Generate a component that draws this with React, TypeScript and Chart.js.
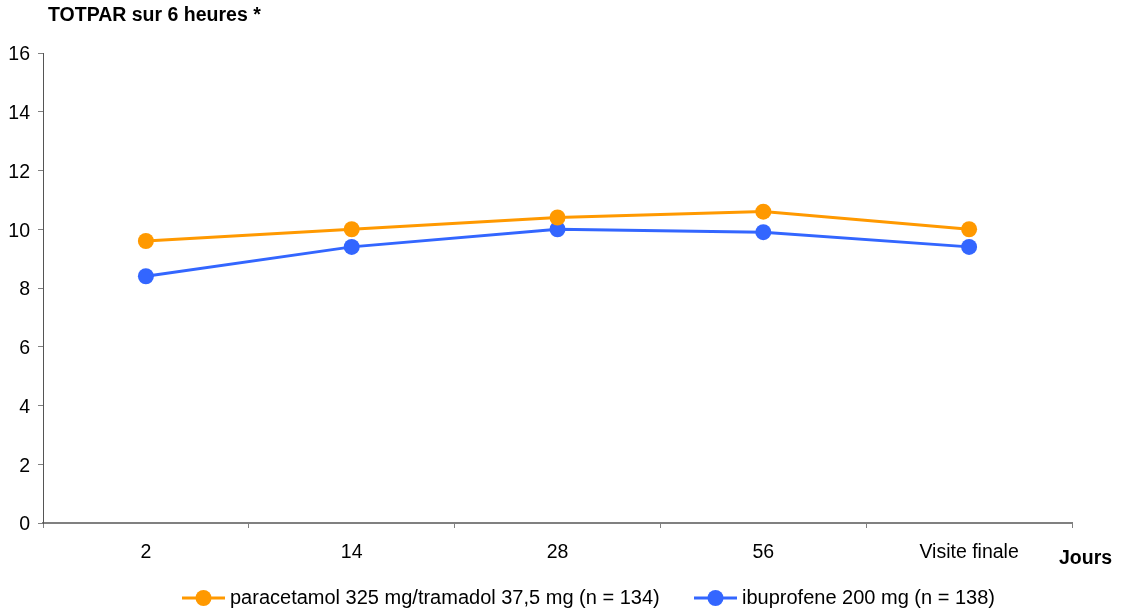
import React, { useEffect, useRef } from "react";
import { Chart, registerables } from "chart.js";

Chart.register(...registerables);

const categories = ["2", "14", "28", "56", "Visite finale"];
const paracetamolTramadol = [9.6, 10.0, 10.4, 10.6, 10.0];
const ibuprofene = [8.4, 9.4, 10.0, 9.9, 9.4];
const seriesLabels = [
  "paracetamol 325 mg/tramadol 37,5 mg (n = 134)",
  "ibuprofene 200 mg (n = 138)",
];
const yTitle = "TOTPAR sur 6 heures *";
const xTitle = "Jours";

const ORANGE = "#FF9900";
const BLUE = "#3366FF";
const AXIS = "#808080";
const FONT = "'Liberation Sans', Arial, sans-serif";
const FONT_SIZE = 19.5;
const LEGEND_SIZE = 20;

// Draws the heading, axis caption and a line+marker legend below the plot
const annotations = {
  id: "annotations",
  afterDraw(chart: any) {
    const { ctx, chartArea } = chart;
    ctx.save();
    ctx.fillStyle = "#000";
    ctx.textBaseline = "middle";
    ctx.font = `bold ${FONT_SIZE}px ${FONT}`;
    ctx.textAlign = "left";
    ctx.fillText(yTitle, 48, 16);
    ctx.fillText(xTitle, chartArea.right - 13, 559);

    const legendX = [182, 694];
    const legendY = 598;
    chart.data.datasets.forEach((ds: any, i: number) => {
      const x0 = legendX[i];
      ctx.strokeStyle = ds.borderColor;
      ctx.lineWidth = 3;
      ctx.beginPath();
      ctx.moveTo(x0, legendY);
      ctx.lineTo(x0 + 43, legendY);
      ctx.stroke();
      ctx.fillStyle = ds.backgroundColor;
      ctx.beginPath();
      ctx.arc(x0 + 21.5, legendY, 8, 0, Math.PI * 2);
      ctx.fill();
      ctx.fillStyle = "#000";
      ctx.font = `${LEGEND_SIZE}px ${FONT}`;
      ctx.fillText(ds.label, x0 + 48, legendY);
    });
    ctx.restore();
  },
};

export default function App() {
  const ref = useRef<HTMLCanvasElement | null>(null);

  useEffect(() => {
    document.body.style.margin = "0";
    const canvas = ref.current;
    if (!canvas) return;
    const chart = new Chart(canvas, {
      type: "line",
      data: {
        labels: categories,
        datasets: [
          {
            label: seriesLabels[0],
            data: paracetamolTramadol,
            borderColor: ORANGE,
            backgroundColor: ORANGE,
            borderWidth: 3,
            pointRadius: 8,
            pointHoverRadius: 8,
            pointBorderWidth: 0,
            tension: 0,
          },
          {
            label: seriesLabels[1],
            data: ibuprofene,
            borderColor: BLUE,
            backgroundColor: BLUE,
            borderWidth: 3,
            pointRadius: 8,
            pointHoverRadius: 8,
            pointBorderWidth: 0,
            tension: 0,
          },
        ],
      },
      options: {
        animation: false,
        responsive: false,
        devicePixelRatio: 1,
        layout: { padding: { left: 0, top: 53, right: 49, bottom: 0 } },
        plugins: {
          legend: { display: false },
          title: { display: false },
          tooltip: { enabled: false },
        },
        scales: {
          x: {
            offset: true,
            grid: {
              display: true,
              offset: true,
              drawOnChartArea: false,
              drawTicks: true,
              tickLength: 5,
              color: AXIS,
              lineWidth: 1,
            },
            border: { display: true, color: AXIS, width: 2 },
            ticks: {
              color: "#000",
              font: { family: FONT, size: FONT_SIZE },
              padding: 13,
              maxRotation: 0,
            },
            afterFit(scale: any) {
              scale.height = 91;
            },
          },
          y: {
            min: 0,
            max: 16,
            grid: {
              display: true,
              drawOnChartArea: false,
              drawTicks: true,
              tickLength: 5,
              color: AXIS,
              lineWidth: 1,
            },
            border: { display: true, color: "#555", width: 1 },
            ticks: {
              stepSize: 2,
              color: "#000",
              font: { family: FONT, size: FONT_SIZE },
              padding: 8,
              labelOffset: 2,
            },
            afterFit(scale: any) {
              scale.width = 43;
            },
          },
        },
      },
      plugins: [annotations],
    });
    return () => chart.destroy();
  }, []);

  return (
    <div style={{ width: 1121, height: 614 }}>
      <canvas ref={ref} width={1121} height={614} style={{ display: "block" }} />
    </div>
  );
}
